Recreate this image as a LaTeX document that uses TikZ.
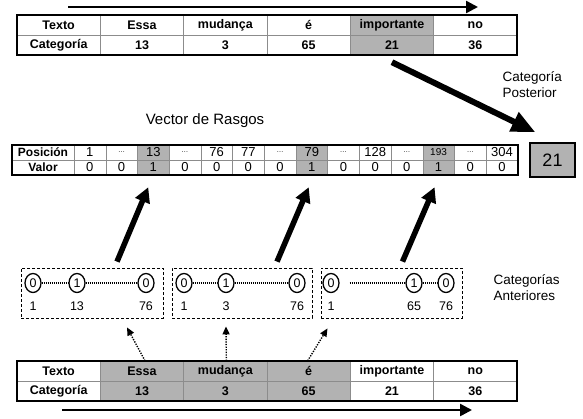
\documentclass[tikz,border=0pt]{standalone}
\usepackage{fontspec}
\setmainfont{Liberation Sans}
\usetikzlibrary{arrows.meta,shapes.geometric}
\definecolor{shade}{RGB}{178,178,178}
\definecolor{rule}{RGB}{140,140,140}

\tikzset{
  cell/.style={draw=rule, fill=#1, minimum width=83.33pt, minimum height=20pt,
    inner sep=0pt, font=\bfseries\fontsize{12.5}{12}\selectfont},
  cell/.default=white,
  vhead/.style={draw=rule, minimum width=62pt, minimum height=15pt, inner sep=0pt,
    font=\bfseries\fontsize{12}{12}\selectfont},
  vcell/.style={draw=rule, fill=#1, minimum width=31.7pt, minimum height=15pt,
    inner sep=0pt, font=\fontsize{13}{13}\selectfont},
  vcell/.default=white,
  bit/.style={draw, line width=1.3pt, ellipse, minimum width=16pt, minimum height=19pt,
    inner sep=0pt, font=\fontsize{12.5}{12}\selectfont},
  idx/.style={inner sep=0pt, font=\fontsize{12.5}{12}\selectfont},
  group/.style={draw, dash pattern=on 3pt off 2pt, line width=0.8pt, minimum height=50pt,
    inner sep=0pt},
  link/.style={line width=1.3pt, dash pattern=on 1pt off 1pt},
  hint/.style={line width=1.4pt, dash pattern=on 1.3pt off 1.3pt,
    -{Triangle[length=8pt,width=7pt]}},
  flow/.style={line width=2.5pt, -{Triangle[length=12pt,width=12pt]}},
  push/.style={line width=5.5pt, -{Triangle[length=15pt,width=15pt]}},
  label/.style={align=left, font=\fontsize{13.5}{16}\selectfont}
}

\begin{document}
\begin{tikzpicture}[x=1pt,y=-1pt]
  \useasboundingbox (0,0) rectangle (583,418);

  % Top table
  \foreach \w/\c/\f [count=\i from 0] in {Texto/Categoría/white, Essa/13/white,
      mudança/3/white, é/65/white, importante/21/shade, no/36/white} {
    \node[cell=\f] (tw\i) at (58.67+83.33*\i,25) {\w};
    \node[cell=\f] (tc\i) at (58.67+83.33*\i,45) {\c};
  }
  \draw[line width=1.6pt] (tw0.north west) rectangle (tc5.south east);
  \coordinate (ts) at (68,7);
  \coordinate (te) at (478,7);
  \draw[flow] (ts) -- (te);

  % Vector de rasgos
  \node[font=\fontsize{15}{15}\selectfont] (title) at (205,121) {Vector de Rasgos};
  \node[vhead] (vp) at (43,152.5) {Posición};
  \node[vhead] (vv) at (43,167.5) {Valor};
  \foreach \p/\v/\f [count=\i from 0] in {1/0/white, {\scriptsize\dots}/0/white,
      13/1/shade, {\scriptsize\dots}/0/white, 76/0/white, 77/0/white,
      {\scriptsize\dots}/0/white, 79/1/shade, {\scriptsize\dots}/0/white, 128/0/white,
      {\scriptsize\dots}/0/white, {\fontsize{10}{10}\selectfont 193}/1/shade,
      {\scriptsize\dots}/0/white, 304/0/white} {
    \node[vcell=\f] (vp\i) at (89.85+31.7*\i,152.5) {\p};
    \node[vcell=\f] (vv\i) at (89.85+31.7*\i,167.5) {\v};
  }
  \draw[line width=1.6pt] (vp.north west) rectangle (vv13.south east);
  \node[draw, line width=1.4pt, fill=shade, minimum width=45pt, minimum height=34pt,
    font=\fontsize{18}{18}\selectfont] (post) at (552.5,160) {21};
  \node[label, anchor=west] (postlbl) at (499,85) {Categoría\\Posterior};
  \draw[push, line width=6pt, -{Triangle[length=24pt,width=20pt]}]
    ([yshift=-7pt]tc4.south) -- ([xshift=-17pt,yshift=10pt]post.north);

  % Categorias anteriores
  \foreach \g/\cx/\w in {1/92/142, 2/242/140, 3/391.5/141}
    \node[group, minimum width=\w] (g\g) at (\cx,293) {};
  \foreach \g/\xa/\xb/\xc/\la/\lb/\lc/\gap in {1/33/77/146/1/13/76/0,
      2/184/226/297/1/3/76/0, 3/331/414/446/1/65/76/10} {
    \node[bit] (b\g-1) at (\xa,283) {0};
    \node[bit] (b\g-2) at (\xb,283) {1};
    \node[bit] (b\g-3) at (\xc,283) {0};
    \node[idx] (l\g-1) at (\xa,306) {\la};
    \node[idx] (l\g-2) at (\xb,306) {\lb};
    \node[idx] (l\g-3) at (\xc,306) {\lc};
    \draw[link, shorten <=\gap pt] (b\g-1) -- (b\g-2);
    \draw[link] (b\g-2) -- (b\g-3);
  }
  \node[label, anchor=west] (prevlbl) at (490,288) {Categorías\\Anteriores};
  \draw[push] ([xshift=25pt,yshift=6pt]g1.north) -- ([xshift=-5pt,yshift=-12pt]vv2.south);
  \draw[push] ([xshift=35pt,yshift=6pt]g2.north) -- ([xshift=-3pt,yshift=-12pt]vv7.south);
  \draw[push] ([xshift=11pt,yshift=6pt]g3.north) -- ([xshift=-4pt,yshift=-12pt]vv11.south);

  % Bottom table
  \foreach \w/\c/\f [count=\i from 0] in {Texto/Categoría/white, Essa/13/shade,
      mudança/3/shade, é/65/shade, importante/21/white, no/36/white} {
    \node[cell=\f] (bw\i) at (58.67+83.33*\i,371) {\w};
    \node[cell=\f] (bc\i) at (58.67+83.33*\i,391) {\c};
  }
  \draw[line width=1.6pt] (bw0.north west) rectangle (bc5.south east);
  \draw[hint] ([xshift=3pt]bw1.north) -- ([xshift=35pt,yshift=-9pt]g1.south);
  \draw[hint] ([xshift=1pt]bw2.north) -- ([xshift=-16pt,yshift=-8pt]g2.south);
  \draw[hint] ([xshift=-1pt]bw3.north) -- ([xshift=-64pt,yshift=-10pt]g3.south);
  \coordinate (bs) at (62,410);
  \coordinate (be) at (472,410);
  \draw[flow] (bs) -- (be);
\end{tikzpicture}
\end{document}
